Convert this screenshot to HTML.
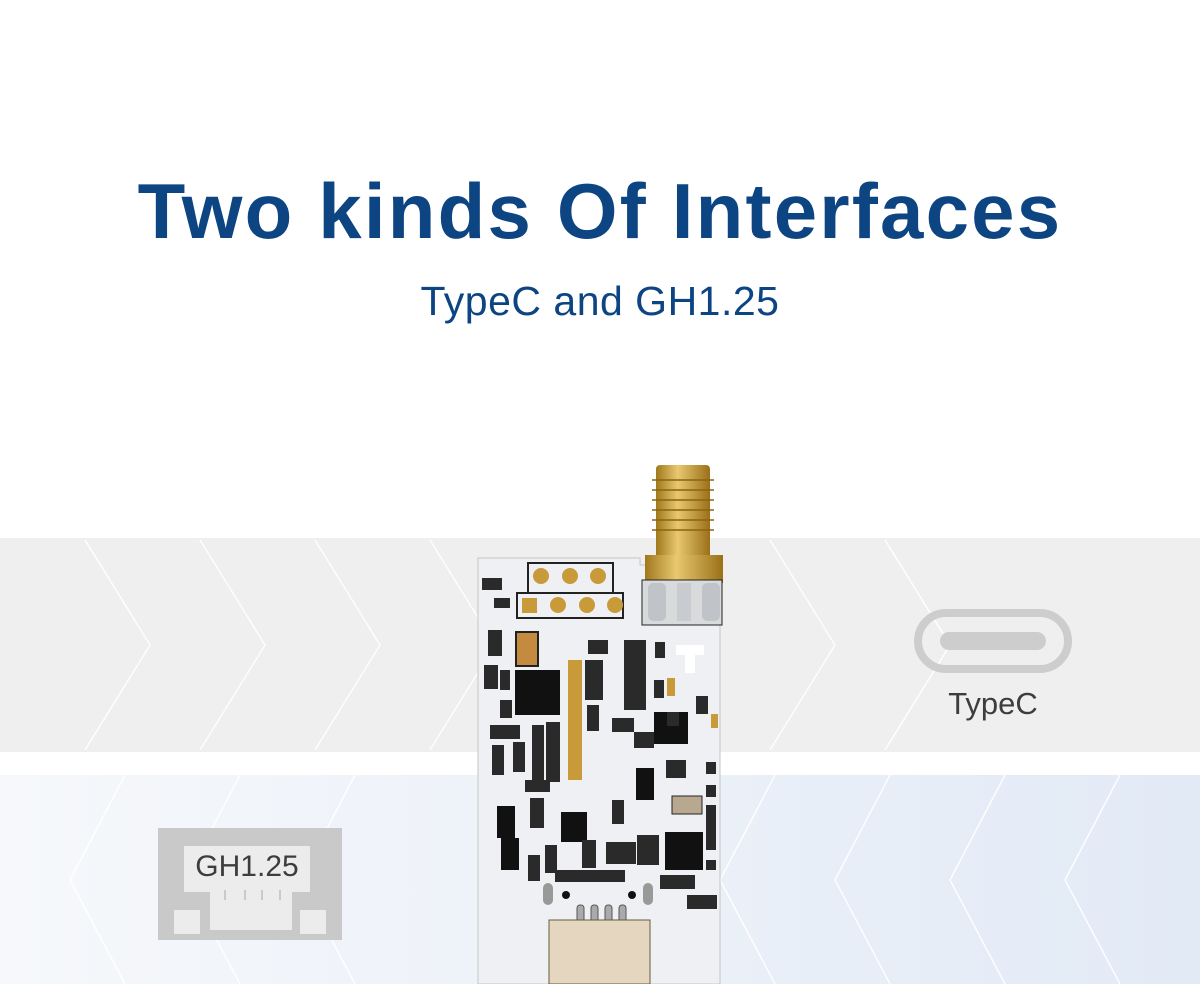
<!DOCTYPE html>
<html><head><meta charset="utf-8"><style>
html,body{margin:0;padding:0;width:1200px;height:984px;overflow:hidden;background:#fff;font-family:"Liberation Sans","DejaVu Sans",sans-serif}
.t{position:absolute;left:0;width:1200px;text-align:center;color:#0d4583}
</style></head><body>
<svg width="1200" height="984" style="position:absolute;left:0;top:0">
<defs>
<linearGradient id="bl" x1="0" x2="1" y1="0" y2="0"><stop offset="0" stop-color="#f6f8fb"/><stop offset="1" stop-color="#e2eaf6"/></linearGradient>
<linearGradient id="gd" x1="0" x2="1"><stop offset="0" stop-color="#a0781c"/><stop offset=".4" stop-color="#e8c870"/><stop offset="1" stop-color="#9a7018"/></linearGradient>
</defs>
<rect x="0" y="538" width="1200" height="214" fill="#efefef"/>
<rect x="0" y="775" width="1200" height="209" fill="url(#bl)"/>
<g stroke="#fff" stroke-width="1.5" fill="none" opacity=".9">
<polyline points="85,540 150,645 85,750"/><polyline points="200,540 265,645 200,750"/><polyline points="315,540 380,645 315,750"/><polyline points="430,540 495,645 430,750"/>
<polyline points="770,540 835,645 770,750"/><polyline points="885,540 950,645 885,750"/>
<polyline points="125,775 70,880 125,984"/><polyline points="240,775 185,880 240,984"/><polyline points="355,775 300,880 355,984"/>
<polyline points="775,775 720,880 775,984"/><polyline points="890,775 835,880 890,984"/><polyline points="1005,775 950,880 1005,984"/><polyline points="1120,775 1065,880 1120,984"/>
</g>
<rect x="656" y="465" width="54" height="100" rx="4" fill="url(#gd)"/>
<g stroke="#8a6410" stroke-width="1.5"><line x1="652" y1="480" x2="714" y2="480"/><line x1="652" y1="490" x2="714" y2="490"/><line x1="652" y1="500" x2="714" y2="500"/><line x1="652" y1="510" x2="714" y2="510"/><line x1="652" y1="520" x2="714" y2="520"/><line x1="652" y1="530" x2="714" y2="530"/></g>
<path d="M478,558 H640 V565 H720 V984 H478 Z" fill="#eef0f3" stroke="#c4c6c8"/>
<rect x="645" y="555" width="78" height="28" fill="url(#gd)"/>
<rect x="642" y="580" width="80" height="45" fill="#d8dadc" stroke="#222"/>
<rect x="648" y="583" width="18" height="38" rx="5" fill="#c0c4c8"/><rect x="677" y="583" width="14" height="38" fill="#c8ccd0"/><rect x="702" y="583" width="18" height="38" rx="5" fill="#c0c4c8"/>
<g fill="#d7a93a" stroke="#222" stroke-width="2">
<rect x="528" y="563" width="85" height="30" fill="none"/><rect x="517" y="593" width="106" height="25" fill="none"/>
</g>
<g fill="#c99a3a"><circle cx="541" cy="576" r="8"/><circle cx="570" cy="576" r="8"/><circle cx="598" cy="576" r="8"/><rect x="522" y="598" width="15" height="15"/><circle cx="558" cy="605" r="8"/><circle cx="587" cy="605" r="8"/><circle cx="615" cy="605" r="8"/>
<rect x="568" y="660" width="14" height="120"/><rect x="667" y="678" width="8" height="18"/><rect x="711" y="714" width="7" height="14"/></g>
<path d="M676,645 h28 v10 h-9 v18 h-10 v-18 h-9z" fill="#fff"/>
<rect x="516" y="632" width="22" height="34" fill="#c48a40" stroke="#222" stroke-width="2"/>
<g fill="#111">
<rect x="515" y="670" width="45" height="45"/><rect x="654" y="712" width="34" height="32"/><rect x="561" y="812" width="26" height="30"/><rect x="665" y="832" width="38" height="38"/>
<rect x="636" y="768" width="18" height="32"/><rect x="497" y="806" width="18" height="32"/><rect x="501" y="838" width="18" height="32"/>
</g>
<g fill="#2a2a2a">
<rect x="482" y="578" width="20" height="12"/><rect x="494" y="598" width="16" height="10"/><rect x="488" y="630" width="14" height="26"/><rect x="484" y="665" width="14" height="24"/><rect x="500" y="670" width="10" height="20"/><rect x="500" y="700" width="12" height="18"/>
<rect x="490" y="725" width="30" height="14"/><rect x="492" y="745" width="12" height="30"/><rect x="513" y="742" width="12" height="30"/><rect x="532" y="725" width="12" height="60"/><rect x="546" y="722" width="14" height="60"/>
<rect x="525" y="780" width="25" height="12"/><rect x="530" y="798" width="14" height="30"/><rect x="545" y="845" width="12" height="28"/><rect x="528" y="855" width="12" height="26"/>
<rect x="588" y="640" width="20" height="14"/><rect x="585" y="660" width="18" height="40"/><rect x="587" y="705" width="12" height="26"/><rect x="624" y="640" width="22" height="70"/><rect x="655" y="642" width="10" height="16"/><rect x="654" y="680" width="10" height="18"/>
<rect x="612" y="718" width="22" height="14"/><rect x="634" y="732" width="20" height="16"/><rect x="667" y="712" width="12" height="14"/><rect x="696" y="696" width="12" height="18"/>
<rect x="666" y="760" width="20" height="18"/><rect x="706" y="762" width="10" height="12"/><rect x="706" y="785" width="10" height="12"/><rect x="706" y="805" width="10" height="45"/><rect x="706" y="860" width="10" height="10"/>
<rect x="612" y="800" width="12" height="24"/><rect x="582" y="840" width="14" height="28"/><rect x="606" y="842" width="30" height="22"/><rect x="637" y="835" width="22" height="30"/>
<rect x="555" y="870" width="70" height="12"/><rect x="660" y="875" width="35" height="14"/><rect x="687" y="895" width="30" height="14"/>
</g>
<rect x="672" y="796" width="30" height="18" fill="#b8a890" stroke="#222"/>
<g fill="#999"><rect x="543" y="883" width="10" height="22" rx="5"/><rect x="643" y="883" width="10" height="22" rx="5"/></g>
<g fill="#111"><circle cx="566" cy="895" r="4"/><circle cx="632" cy="895" r="4"/></g>
<g fill="#aaa" stroke="#555"><rect x="577" y="905" width="7" height="20" rx="3"/><rect x="591" y="905" width="7" height="20" rx="3"/><rect x="605" y="905" width="7" height="20" rx="3"/><rect x="619" y="905" width="7" height="20" rx="3"/></g>
<rect x="549" y="920" width="101" height="64" fill="#e4d6bf" stroke="#6a5a40"/>
<rect x="918" y="613" width="150" height="56" rx="28" fill="none" stroke="#cdcdcd" stroke-width="8"/>
<rect x="940" y="632" width="106" height="18" rx="9" fill="#cdcdcd"/>
<rect x="158" y="828" width="184" height="112" fill="#c9c9c9"/>
<rect x="184" y="846" width="126" height="46" fill="#ececec"/>
<rect x="210" y="888" width="82" height="42" fill="#ececec"/>
<rect x="174" y="910" width="26" height="24" fill="#ececec"/><rect x="300" y="910" width="26" height="24" fill="#ececec"/>
<g stroke="#c9c9c9" stroke-width="2"><line x1="225" y1="890" x2="225" y2="900"/><line x1="245" y1="890" x2="245" y2="900"/><line x1="262" y1="890" x2="262" y2="900"/><line x1="280" y1="890" x2="280" y2="900"/></g>
</svg>
<div class="t" style="top:166px;font-size:78px;font-weight:bold;letter-spacing:2.2px">Two kinds Of Interfaces</div>
<div class="t" style="top:278px;font-size:41px;letter-spacing:0.5px">TypeC and GH1.25</div>
<div style="position:absolute;left:918px;top:686px;width:150px;text-align:center;font-size:31px;color:#3d3d3d">TypeC</div>
<div style="position:absolute;left:184px;top:850px;width:126px;text-align:center;font-size:30px;color:#3d3d3d">GH1.25</div>
</body></html>
